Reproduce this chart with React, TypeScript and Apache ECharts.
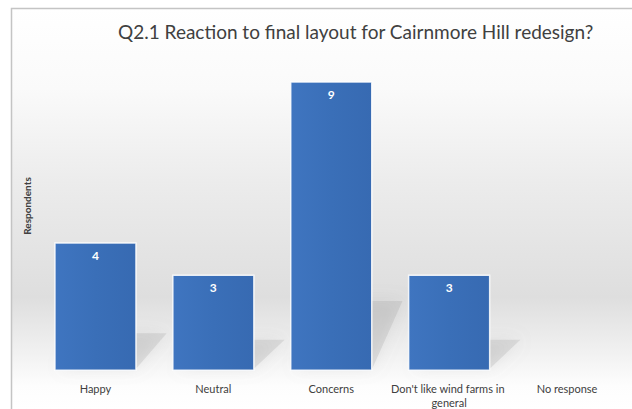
import React, { useEffect, useRef } from "react";
import * as echarts from "echarts";

const categories = ["Happy", "Neutral", "Concerns", "Don't like wind farms in general", "No response"];
const respondents = [4, 3, 9, 3, 0];
const titleText = "Q2.1 Reaction to final layout for Cairnmore Hill redesign?";
const yAxisName = "Respondents";

export default function App() {
  const ref = useRef<HTMLDivElement>(null);
  useEffect(() => {
    if (!ref.current) return;
    document.body.style.margin = "0";
    document.body.style.overflow = "hidden";
    document.documentElement.style.overflow = "hidden";
    const chart = echarts.init(ref.current, undefined, { renderer: "svg" });
    const font = "Lato, 'Open Sans', sans-serif";
    chart.setOption({
      animation: false,
      graphic: [
        {
          type: "rect",
          z: -10,
          silent: true,
          shape: { x: 11.5, y: 8.5, width: 700, height: 401 },
          style: {
            fill: new echarts.graphic.LinearGradient(0, 0, 0, 1, [
              { offset: 0, color: "#ffffff" },
              { offset: 0.2, color: "#fafafa" },
              { offset: 0.43, color: "#ececec" },
              { offset: 0.72, color: "#dedede" },
              { offset: 0.88, color: "#f4f4f4" },
              { offset: 0.94, color: "#fdfdfd" },
              { offset: 1, color: "#ffffff" },
            ]),
          },
        },
        {
          type: "polyline",
          z: -9,
          silent: true,
          shape: { points: [[11.5, 420], [11.5, 8.5], [700, 8.5]] },
          style: { stroke: "#c4c4c4", lineWidth: 1.5, fill: "none" },
        },
      ],
      title: {
        text: titleText,
        left: 118,
        top: 22,
        padding: 0,
        textStyle: { fontFamily: font, fontSize: 19, fontWeight: "normal", color: "#404040" },
      },
      grid: { left: 36.5, right: 5.5, top: 49, bottom: 36 },
      xAxis: {
        type: "category",
        data: categories,
        axisLine: { show: false },
        axisTick: { show: false },
        axisLabel: {
          interval: 0,
          margin: 10,
          width: 124,
          overflow: "break",
          lineHeight: 14,
          fontFamily: font,
          fontSize: 11,
          color: "#404040",
        },
      },
      yAxis: {
        type: "value",
        min: 0,
        max: 10,
        interval: 1,
        name: yAxisName,
        nameLocation: "middle",
        nameGap: 5,
        nameTextStyle: { fontFamily: font, fontSize: 10, fontWeight: "bold", color: "#404040", padding: [0, 0, 0, 8] },
        axisLine: { show: false },
        axisTick: { show: false },
        axisLabel: { show: false },
        splitLine: { show: false },
      },
      series: [
        {
          type: "custom",
          z: 1,
          silent: true,
          data: respondents.map((v, i) => [i, v]),
          renderItem: (params: any, api: any) => {
            const idx = api.value(0);
            const v = api.value(1);
            if (!v) return null;
            const top = api.coord([idx, v]);
            const base = api.coord([idx, 0]);
            const band = api.size([1, 0])[0];
            const w = band * 0.7;
            const xL = base[0] - w / 2;
            const xR = base[0] + w / 2;
            const h = base[1] - top[1];
            const dx = 30;
            const dy = 0.2 * h + 12;
            return {
              type: "polygon",
              shape: {
                points: [
                  [xL + 6, base[1] - 3],
                  [xR, base[1] - 3],
                  [xR + dx, base[1] - dy],
                  [xL + dx, base[1] - dy],
                ],
              },
              style: {
                fill: "rgba(150,150,150,0.22)",
                shadowBlur: 16,
                shadowColor: "rgba(140,140,140,0.7)",
              },
            };
          },
        },
        {
          type: "bar",
          z: 2,
          data: respondents.map((v) => ({
            value: v,
            itemStyle: v ? {} : { borderWidth: 0, opacity: 0 },
          })),
          barWidth: "70%",
          itemStyle: {
            color: new echarts.graphic.LinearGradient(0, 0, 1, 0, [
              { offset: 0, color: "#3f75c0" },
              { offset: 0.5, color: "#3a6fb8" },
              { offset: 1, color: "#376ab2" },
            ]),
            borderColor: "rgba(255,255,255,0.85)",
            borderWidth: 1.5,
          },
          label: {
            show: true,
            position: "insideTop",
            distance: 7,
            formatter: (p: any) => (p.value ? String(p.value) : ""),
            fontFamily: font,
            fontSize: 12,
            fontWeight: "bold",
            color: "#ffffff",
          },
        },
      ],
    });
    return () => chart.dispose();
  }, []);
  return (
    <div
      ref={ref}
      style={{ position: "fixed", left: 0, top: 0, width: 632, height: 409, background: "#ffffff", overflow: "hidden" }}
    />
  );
}
